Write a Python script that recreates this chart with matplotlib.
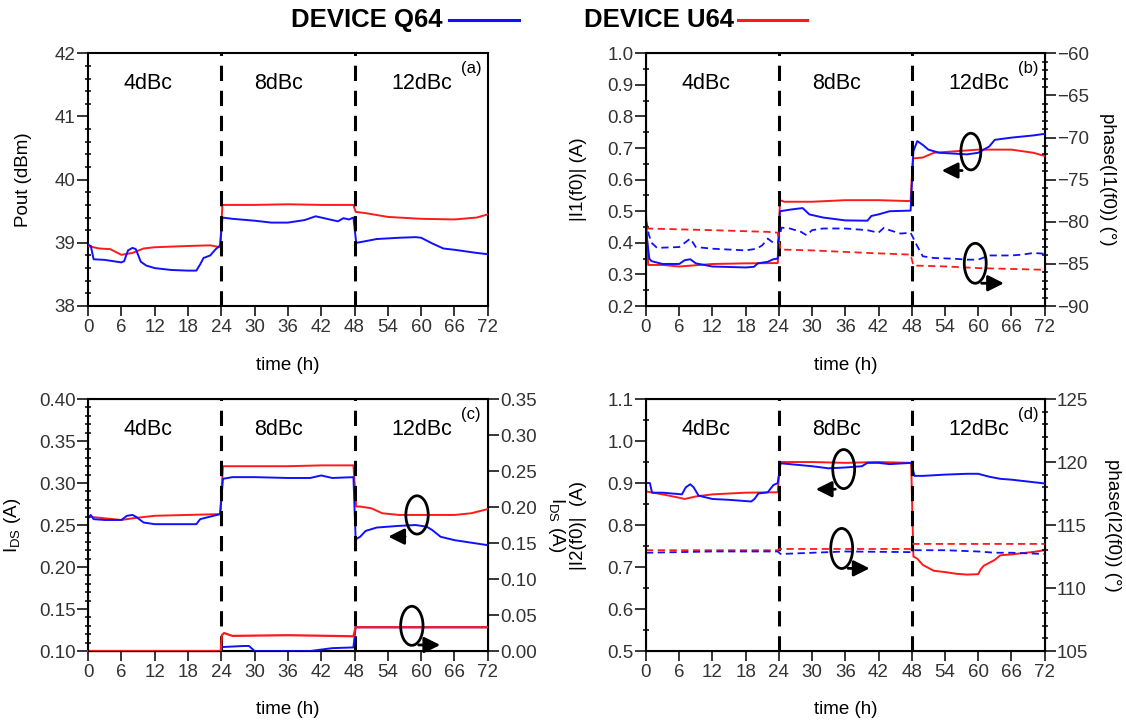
import matplotlib
matplotlib.use("Agg")
import matplotlib.pyplot as plt
from matplotlib.lines import Line2D
from matplotlib.patches import Ellipse
from matplotlib.ticker import MultipleLocator

plt.rcParams["font.family"] = ["Liberation Sans", "DejaVu Sans"]
plt.rcParams["mathtext.fontset"] = "custom"
plt.rcParams["mathtext.rm"] = "Liberation Sans"

BLUE = "#1010ff"
RED = "#ff1a1a"

# (a) Pout
t_a_red = [0, 2, 4, 6, 8, 10, 12, 18, 22, 23.8, 24.2, 30, 36, 42, 47.8, 48.2, 50, 54, 60, 66, 70, 72]
a_red = [38.95, 38.91, 38.9, 38.81, 38.84, 38.91, 38.93, 38.95, 38.96, 38.93, 39.6, 39.6, 39.61, 39.6,
         39.6, 39.49, 39.47, 39.41, 39.38, 39.37, 39.4, 39.45]
t_a_blue = [0, 0.5, 1, 3, 6, 6.5, 7.2, 8, 8.6, 9.5, 10.5, 12, 15, 18, 19.5, 20.2, 20.8, 22, 23, 23.8,
            24.2, 26, 30, 33, 36, 39, 41, 43, 45, 46, 47, 47.8, 48.3, 49, 52, 56, 59, 60, 62, 64,
            66, 70, 72]
a_blue = [38.97, 38.95, 38.74, 38.73, 38.69, 38.71, 38.88, 38.92, 38.9, 38.7, 38.64, 38.6, 38.57, 38.56,
          38.56, 38.66, 38.76, 38.8, 38.9, 38.96, 39.4, 39.38, 39.35, 39.32, 39.32, 39.36, 39.42, 39.38,
          39.34, 39.39, 39.37, 39.4, 39.0, 39.01, 39.06, 39.08, 39.09, 39.08, 38.99, 38.91, 38.89, 38.84,
          38.82]

# (b) |I1(f0)| and phase
t_b_red = [0, 0.4, 3, 6, 12, 18, 23.8, 24.2, 25, 30, 36, 42, 47.8, 48.2, 50, 52, 56, 60, 66, 70, 72]
b_red = [0.49, 0.33, 0.33, 0.325, 0.333, 0.335, 0.336, 0.535, 0.53, 0.53, 0.535, 0.535, 0.532, 0.667,
         0.67, 0.685, 0.69, 0.695, 0.695, 0.685, 0.675]
t_b_blue = [0, 0.6, 1, 3, 6, 7, 8, 9, 12, 18, 19.5, 20.2, 22, 23, 23.8, 24.2, 26, 28.3, 29.5, 32, 36,
            40, 40.7, 42, 44, 47.8, 48.3, 49, 50, 51, 53, 55, 58, 60, 62, 63, 66, 70, 72]
b_blue = [0.44, 0.35, 0.342, 0.333, 0.333, 0.345, 0.348, 0.335, 0.325, 0.322, 0.324, 0.335, 0.34, 0.348,
          0.35, 0.5, 0.505, 0.51, 0.49, 0.48, 0.471, 0.47, 0.485, 0.49, 0.5, 0.502, 0.69, 0.722, 0.71,
          0.695, 0.685, 0.683, 0.68, 0.685, 0.705, 0.726, 0.733, 0.74, 0.745]
t_bp_red = [0, 12, 22, 23.8, 24.3, 30, 40, 47.8, 48.3, 54, 60, 66, 72]
bp_red = [-80.8, -81.0, -81.2, -81.3, -83.3, -83.4, -83.7, -83.9, -85.2, -85.3, -85.5, -85.6, -85.7]
t_bp_blue = [0, 0.5, 1, 2, 6, 7, 8, 9, 12, 18, 20, 21, 22, 23, 23.8, 24.5, 26, 28, 29, 30, 32, 36, 40,
             42, 43, 44, 46, 47.8, 49, 50, 52, 56, 58, 60, 62, 64, 66, 68, 70, 72]
bp_blue = [-79.8, -81.5, -82.5, -83.1, -83.0, -82.5, -82.0, -83.0, -83.2, -83.4, -83.2, -82.8, -82.0,
           -82.5, -82.5, -80.7, -80.8, -81.2, -81.6, -81.0, -80.8, -80.8, -81.0, -81.3, -80.7, -81.0,
           -81.4, -81.3, -82.9, -84.1, -84.3, -84.4, -84.5, -84.5, -84.0, -84.0, -84.0, -83.9, -83.7,
           -83.8]

# (c) IDS, left and right scale
t_c_red = [0, 3, 6, 8, 12, 18, 23.8, 24.3, 30, 36, 42, 47.8, 48.3, 49, 51, 53, 56, 60, 66, 69, 72]
c_red = [0.26, 0.258, 0.256, 0.258, 0.261, 0.262, 0.263, 0.32, 0.32, 0.32, 0.321, 0.321, 0.272, 0.272,
         0.27, 0.264, 0.262, 0.262, 0.262, 0.264, 0.269]
t_c_blue = [0, 0.5, 1, 3, 6, 7, 8, 8.6, 10, 12, 18, 19.5, 20.2, 22, 23.8, 24.3, 26, 30, 36, 40, 42, 44,
            47.8, 48.2, 49, 50, 52, 56, 59, 61, 62, 63.5, 66, 70, 72]
c_blue = [0.258, 0.262, 0.257, 0.256, 0.256, 0.261, 0.262, 0.26, 0.253, 0.251, 0.251, 0.251, 0.257, 0.26,
          0.263, 0.305, 0.307, 0.307, 0.306, 0.306, 0.309, 0.306, 0.307, 0.233, 0.236, 0.243, 0.247,
          0.249, 0.25, 0.248, 0.244, 0.236, 0.232, 0.228, 0.226]
t_cr_red = [0, 23.9, 24.1, 24.5, 26, 36, 47.8, 48.2, 72]
cr_red = [0.0, 0.0, 0.022, 0.025, 0.021, 0.022, 0.0205, 0.033, 0.033]
t_cr_blue = [0, 23.9, 24.1, 28, 29, 30, 36, 40, 42, 44, 47.8, 48.2, 72]
cr_blue = [0.0, 0.0, 0.0055, 0.007, 0.007, 0.0, 0.0, 0.0, 0.002, 0.004, 0.005, 0.033, 0.033]

# (d) |I2(f0)| and phase
t_d_red = [0, 3, 6, 7, 9, 12, 18, 23.8, 24.2, 30, 36, 42, 47.9, 48.3, 49, 50, 52, 54, 56, 58, 60, 60.5,
           61, 63, 64, 66, 68, 70, 72]
d_red = [0.88, 0.873, 0.865, 0.862, 0.868, 0.873, 0.877, 0.878, 0.95, 0.95, 0.948, 0.95, 0.948, 0.725,
         0.72, 0.705, 0.691, 0.688, 0.684, 0.682, 0.683, 0.695, 0.703, 0.717, 0.728, 0.73, 0.733, 0.736,
         0.74]
t_d_blue = [0, 0.7, 1.1, 3, 6.5, 7.2, 8, 8.6, 9.5, 12, 15, 19, 19.6, 20.3, 22, 23, 23.8, 24.3, 26, 30,
            33, 36, 39, 40, 42, 44, 47.9, 48.5, 50, 54, 58, 60, 62, 64, 66, 70, 72]
d_blue = [0.9, 0.9, 0.877, 0.877, 0.873, 0.89, 0.897, 0.89, 0.87, 0.862, 0.86, 0.856, 0.862, 0.875,
          0.878, 0.895, 0.9, 0.947, 0.945, 0.94, 0.935, 0.937, 0.94, 0.948, 0.948, 0.945, 0.948, 0.917,
          0.917, 0.92, 0.922, 0.922, 0.915, 0.91, 0.908, 0.902, 0.899]
t_dp_red = [0, 23.8, 24.2, 47.8, 48.2, 72]
dp_red = [113.0, 113.0, 113.1, 113.1, 113.5, 113.5]
t_dp_blue = [0, 12, 23.8, 24.3, 36, 47.8, 48.5, 54, 60, 63, 66, 72]
dp_blue = [112.8, 112.9, 112.9, 112.7, 112.9, 112.85, 113.0, 113.0, 112.9, 112.8, 112.8, 112.7]

regions = ["4dBc", "8dBc", "12dBc"]
region_x = [0.15, 0.477, 0.835]
time_ticks = list(range(0, 73, 6))
TICK_COLOR = "#333333"


def style(ax, ylim, major, minor, label, label_x, right=False):
    ax.set_ylim(*ylim)
    ax.yaxis.set_major_locator(MultipleLocator(major))
    if minor:
        ax.yaxis.set_minor_locator(MultipleLocator(minor))
    ax.tick_params(axis="y", which="major", direction="out", length=8, width=1.1,
                   labelsize=13.5, labelcolor=TICK_COLOR, pad=1)
    ax.tick_params(axis="y", which="minor", direction="inout", length=5, width=1.1)
    if right:
        ax.set_ylabel(label, fontsize=13.5, rotation=270, va="center")
    else:
        ax.set_ylabel(label, fontsize=13.5)
    ax.yaxis.set_label_coords(label_x, 0.5)


def base(ax, tag):
    ax.set_xlim(0, 72)
    ax.set_xticks(time_ticks)
    ax.tick_params(axis="x", direction="out", length=7, width=1.1, labelsize=13.5,
                   labelcolor=TICK_COLOR, pad=2)
    ax.set_xlabel("time (h)", fontsize=13.5)
    ax.xaxis.set_label_coords(0.5, -0.2)
    for s in ax.spines.values():
        s.set_linewidth(1.5)
    for x in [24, 48]:
        ax.axvline(x, color="black", lw=2.2, dashes=(5, 3.2), zorder=4)
    for name, xr in zip(regions, region_x):
        ax.text(xr, 0.88, name, transform=ax.transAxes, ha="center", va="center", fontsize=15.5)
    ax.text(0.958, 0.94, tag, transform=ax.transAxes, ha="center", va="center", fontsize=12)


def marker(ax, cx, cy, w, h, ay, x0, x1):
    ax.add_patch(Ellipse((cx, cy), w, h, transform=ax.transAxes, fill=False, lw=2,
                         color="black", zorder=6, clip_on=False))
    ax.annotate("", xy=(x1, ay), xytext=(x0, ay), xycoords="axes fraction",
                arrowprops=dict(arrowstyle="-|>", color="black", lw=2, mutation_scale=24),
                zorder=6)


fig = plt.figure(figsize=(11.26, 7.2), dpi=100)
ax_a = fig.add_axes([0.0782, 0.575, 0.355, 0.351])
ax_b = fig.add_axes([0.5737, 0.575, 0.354, 0.351])
ax_c = fig.add_axes([0.0782, 0.0958, 0.355, 0.35])
ax_d = fig.add_axes([0.5737, 0.0958, 0.354, 0.35])

# (a)
ax_a.plot(t_a_red, a_red, color=RED, lw=1.4, zorder=3)
ax_a.plot(t_a_blue, a_blue, color=BLUE, lw=1.4, zorder=3)
base(ax_a, "(a)")
style(ax_a, (38, 42), 1, 0.2, "Pout (dBm)", -0.14)

# (b)
ax_b2 = ax_b.twinx()
ax_b.plot(t_b_red, b_red, color=RED, lw=1.4, zorder=3)
ax_b.plot(t_b_blue, b_blue, color=BLUE, lw=1.4, zorder=3)
ax_b2.plot(t_bp_red, bp_red, color=RED, lw=1.3, dashes=(4, 2.5))
ax_b2.plot(t_bp_blue, bp_blue, color=BLUE, lw=1.3, dashes=(4, 2.5))
base(ax_b, "(b)")
style(ax_b, (0.2, 1.0), 0.1, 0.05, "|I1(f0)| (A)", -0.148)
style(ax_b2, (-90, -60), 5, 1, "phase(I1(f0)) (°)", 1.158, right=True)
ax_b.yaxis.set_major_formatter(plt.FormatStrFormatter("%.1f"))
marker(ax_b2, 0.815, 0.611, 0.05, 0.145, 0.536, 0.80, 0.735)
marker(ax_b2, 0.826, 0.169, 0.055, 0.158, 0.09, 0.835, 0.905)

# (c)
ax_c2 = ax_c.twinx()
ax_c.plot(t_c_red, c_red, color=RED, lw=1.4, zorder=3)
ax_c.plot(t_c_blue, c_blue, color=BLUE, lw=1.4, zorder=3)
ax_c2.plot(t_cr_blue, cr_blue, color=BLUE, lw=1.4, clip_on=False)
ax_c2.plot(t_cr_red, cr_red, color=RED, lw=1.6, clip_on=False)
base(ax_c, "(c)")
style(ax_c, (0.1, 0.4), 0.05, 0.01, r"I$_{\rm DS}$ (A)", -0.163)
style(ax_c2, (0.0, 0.35), 0.05, None, r"I$_{\rm DS}$ (A)", 1.172, right=True)
ax_c.yaxis.set_major_formatter(plt.FormatStrFormatter("%.2f"))
ax_c2.yaxis.set_major_formatter(plt.FormatStrFormatter("%.2f"))
marker(ax_c2, 0.823, 0.54, 0.056, 0.152, 0.454, 0.80, 0.744)
marker(ax_c2, 0.81, 0.10, 0.056, 0.155, 0.024, 0.82, 0.888)

# (d)
ax_d2 = ax_d.twinx()
ax_d.plot(t_d_red, d_red, color=RED, lw=1.4, zorder=3)
ax_d.plot(t_d_blue, d_blue, color=BLUE, lw=1.4, zorder=3)
ax_d2.plot(t_dp_red, dp_red, color=RED, lw=1.3, dashes=(4, 2.5))
ax_d2.plot(t_dp_blue, dp_blue, color=BLUE, lw=1.3, dashes=(4, 2.5))
base(ax_d, "(d)")
style(ax_d, (0.5, 1.1), 0.1, 0.05, "|I2(f0)|  (A)", -0.148)
style(ax_d2, (105, 125), 5, 1, "phase(I2(f0)) (°)", 1.17, right=True)
ax_d.yaxis.set_major_formatter(plt.FormatStrFormatter("%.1f"))
marker(ax_d2, 0.496, 0.722, 0.055, 0.155, 0.642, 0.482, 0.419)
marker(ax_d2, 0.491, 0.407, 0.055, 0.159, 0.328, 0.50, 0.568)

# legend across the top
fig.text(0.3934, 0.972, "DEVICE Q64", ha="right", va="center", fontsize=18.5, fontweight="bold")
fig.add_artist(Line2D([0.399, 0.461], [0.972, 0.972], color=BLUE, lw=2.2))
fig.text(0.652, 0.972, "DEVICE U64", ha="right", va="center", fontsize=18.5, fontweight="bold")
fig.add_artist(Line2D([0.655, 0.717], [0.972, 0.972], color=RED, lw=2.2))

fig.savefig("out.png", dpi=100)
